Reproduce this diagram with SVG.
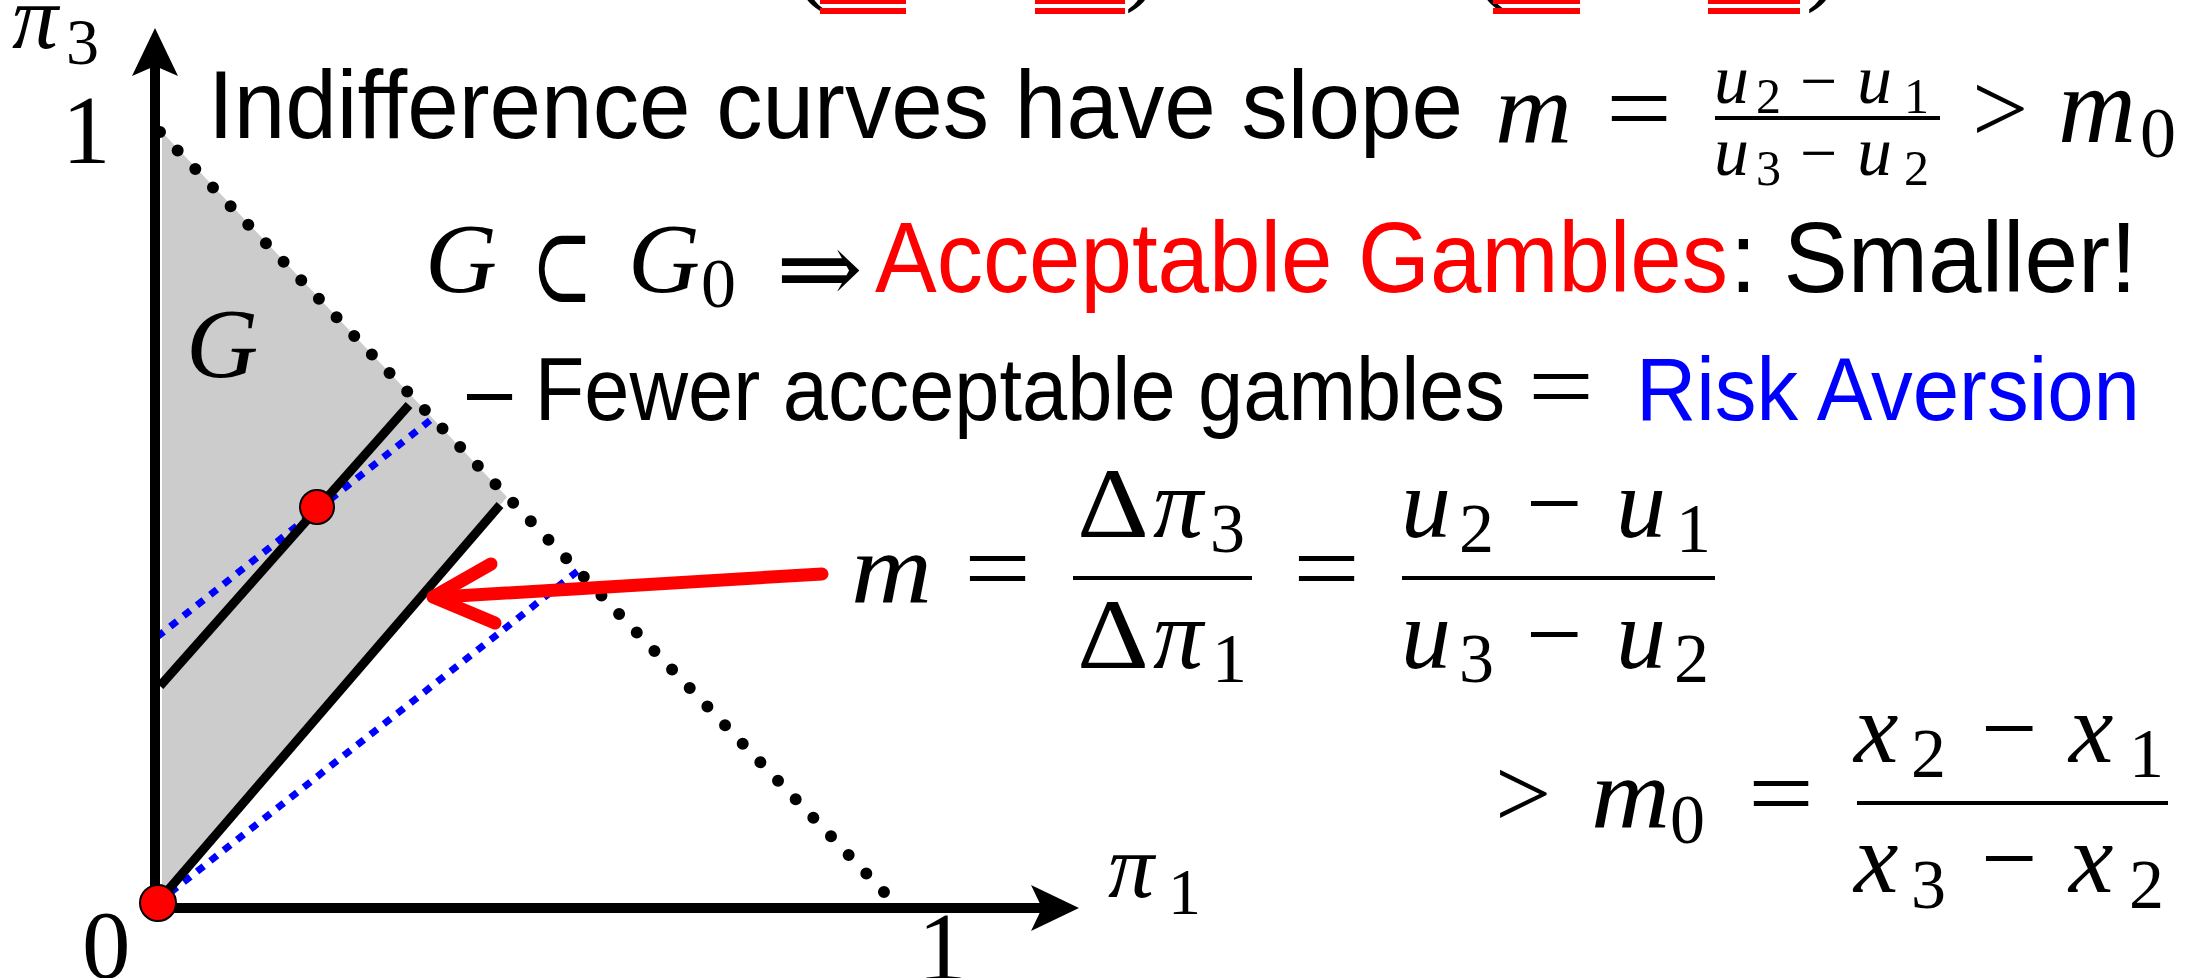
<svg xmlns="http://www.w3.org/2000/svg" width="2212" height="978" viewBox="0 0 2212 978">
<style>
.ms{font-family:"Liberation Serif","Times New Roman",serif;fill:#000}
.mi{font-family:"Liberation Serif","Times New Roman",serif;font-style:italic;fill:#000}
.sym{font-family:"DejaVu Serif","DejaVu Sans",serif;fill:#000}
.ss{font-family:"Liberation Sans",Arial,sans-serif;fill:#000}
.axis{stroke:#000;stroke-width:10;fill:none}
.iso{stroke:#000;stroke-width:9;fill:none}
.blue{stroke:#0000ff;stroke-width:7;stroke-dasharray:8.5 8.5;fill:none}
.hyp{stroke:#000;stroke-width:12;stroke-dasharray:0 25.6;stroke-linecap:round;fill:none}
.dot{fill:#ff0000;stroke:#000;stroke-width:2}
.bar{fill:#000}
.ul{fill:#ff0000}
</style>

<g id="top-fragment">
<text class="ms" x="794" y="-8" font-size="100">(</text>
<rect class="ul" x="820" y="0" width="86" height="4"/>
<rect class="ul" x="820" y="8" width="86" height="6"/>
<rect class="ul" x="1035" y="0" width="90" height="4"/>
<rect class="ul" x="1035" y="8" width="90" height="6"/>
<text class="ms" x="1125" y="-8" font-size="100">)</text>
<text class="ms" x="1474" y="-8" font-size="100">(</text>
<rect class="ul" x="1493" y="0" width="87" height="4"/>
<rect class="ul" x="1493" y="8" width="87" height="6"/>
<rect class="ul" x="1708" y="0" width="92" height="4"/>
<rect class="ul" x="1708" y="8" width="92" height="6"/>
<text class="ms" x="1806" y="-8" font-size="100">)</text>
</g>

<g id="region-G">
<polygon points="162,132 507,497 162,903" fill="#cccccc"/>
<text class="mi" x="186" y="377" font-size="100">G</text>
</g>

<g id="hypotenuse">
<line class="hyp" x1="160" y1="132" x2="884" y2="892"/>
</g>

<g id="indifference-lines">
<line class="blue" x1="157" y1="637" x2="433" y2="418"/>
<line class="blue" x1="157" y1="903" x2="579" y2="570"/>
<line class="iso" x1="160" y1="686" x2="409" y2="405"/>
<line class="iso" x1="157" y1="903" x2="500" y2="505"/>
</g>

<g id="axes">
<line class="axis" x1="155" y1="913" x2="155" y2="60"/>
<path d="M155,28 L178,76 L155,66 L132,76 Z" fill="#000"/>
<line class="axis" x1="150" y1="908" x2="1050" y2="908"/>
<path d="M1079,908 L1031,885 L1042,908 L1031,931 Z" fill="#000"/>
<text class="mi" x="12" y="48" font-size="92">π</text>
<text class="ms" x="66" y="64" font-size="66">3</text>
<text class="ms" x="62" y="163" font-size="97">1</text>
<text class="ms" x="82" y="978" font-size="97">0</text>
<text class="ms" x="918" y="980" font-size="97">1</text>
<text class="mi" x="1108" y="897" font-size="92">π</text>
<text class="ms" x="1168" y="914" font-size="66">1</text>
</g>

<g id="points">
<circle class="dot" cx="317" cy="507" r="17"/>
<circle class="dot" cx="158" cy="903" r="18"/>
</g>

<g id="connectors">
<line x1="822" y1="574" x2="440" y2="597" stroke="#ff0000" stroke-width="13" stroke-linecap="round"/>
<polyline points="491,564 433,597 495,623" fill="none" stroke="#ff0000" stroke-width="13" stroke-linecap="round" stroke-linejoin="round"/>
</g>

<g id="line1">
<text class="ss" x="208" y="138" font-size="97" textLength="1255" lengthAdjust="spacingAndGlyphs">Indifference curves have slope</text>
<text class="mi" x="1495" y="142" font-size="100" textLength="77" lengthAdjust="spacingAndGlyphs">m</text>
<text class="ms" x="1606" y="142" font-size="100" textLength="66" lengthAdjust="spacingAndGlyphs">=</text>
<rect class="bar" x="1715" y="116" width="225" height="4"/>
<text class="mi" x="1714" y="103" font-size="70">u</text>
<text class="ms" x="1756" y="113" font-size="50">2</text>
<text class="ms" x="1800" y="103" font-size="66">−</text>
<text class="mi" x="1857" y="103" font-size="70">u</text>
<text class="ms" x="1904" y="113" font-size="50">1</text>
<text class="mi" x="1714" y="175" font-size="70">u</text>
<text class="ms" x="1756" y="185" font-size="50">3</text>
<text class="ms" x="1800" y="175" font-size="66">−</text>
<text class="mi" x="1857" y="175" font-size="70">u</text>
<text class="ms" x="1904" y="185" font-size="50">2</text>
<text class="ms" x="1972" y="142" font-size="100">&gt;</text>
<text class="mi" x="2058" y="142" font-size="108">m</text>
<text class="ms" x="2140" y="157" font-size="72">0</text>
</g>

<g id="line2">
<text class="mi" x="425" y="292" font-size="100" textLength="72" lengthAdjust="spacingAndGlyphs">G</text>
<text class="sym" x="531" y="302" font-size="106" textLength="62" lengthAdjust="spacingAndGlyphs">⊂</text>
<text class="mi" x="628" y="292" font-size="100" textLength="72" lengthAdjust="spacingAndGlyphs">G</text>
<text class="ms" x="701" y="307" font-size="70">0</text>
<text class="sym" x="776" y="303" font-size="100" textLength="87" lengthAdjust="spacingAndGlyphs">⇒</text>
<text class="ss" x="875" y="292" font-size="100" style="fill:#ff0000" textLength="853" lengthAdjust="spacingAndGlyphs">Acceptable Gambles</text>
<text class="ss" x="1730" y="292" font-size="100" textLength="407" lengthAdjust="spacingAndGlyphs">: Smaller!</text>
</g>

<g id="line3">
<text class="ss" x="467" y="420" font-size="89" textLength="1038" lengthAdjust="spacingAndGlyphs">– Fewer acceptable gambles</text>
<text class="ms" x="1528" y="420" font-size="100" textLength="66" lengthAdjust="spacingAndGlyphs">=</text>
<text class="ss" x="1636" y="420" font-size="89" style="fill:#0000ff" textLength="504" lengthAdjust="spacingAndGlyphs">Risk Aversion</text>
</g>

<g id="formula-m">
<text class="mi" x="851" y="602" font-size="100" textLength="81" lengthAdjust="spacingAndGlyphs">m</text>
<text class="ms" x="964" y="602" font-size="100" textLength="67" lengthAdjust="spacingAndGlyphs">=</text>
<rect class="bar" x="1073" y="576" width="179" height="4"/>
<text class="ms" x="1077" y="537" font-size="100" textLength="72" lengthAdjust="spacingAndGlyphs">Δ</text>
<text class="mi" x="1153" y="537" font-size="100">π</text>
<text class="ms" x="1210" y="552" font-size="70">3</text>
<text class="ms" x="1077" y="668" font-size="100" textLength="72" lengthAdjust="spacingAndGlyphs">Δ</text>
<text class="mi" x="1153" y="668" font-size="100">π</text>
<text class="ms" x="1212" y="682" font-size="70">1</text>
<text class="ms" x="1293" y="602" font-size="100" textLength="67" lengthAdjust="spacingAndGlyphs">=</text>
<rect class="bar" x="1402" y="576" width="313" height="4"/>
<text class="mi" x="1401" y="537" font-size="100">u</text>
<text class="ms" x="1459" y="552" font-size="70">2</text>
<text class="ms" x="1526" y="537" font-size="100">−</text>
<text class="mi" x="1616" y="537" font-size="100">u</text>
<text class="ms" x="1676" y="552" font-size="70">1</text>
<text class="mi" x="1401" y="668" font-size="100">u</text>
<text class="ms" x="1459" y="682" font-size="70">3</text>
<text class="ms" x="1526" y="668" font-size="100">−</text>
<text class="mi" x="1616" y="668" font-size="100">u</text>
<text class="ms" x="1674" y="682" font-size="70">2</text>
</g>

<g id="formula-m0">
<text class="ms" x="1495" y="827" font-size="100">&gt;</text>
<text class="mi" x="1591" y="827" font-size="100" textLength="79" lengthAdjust="spacingAndGlyphs">m</text>
<text class="ms" x="1670" y="843" font-size="70">0</text>
<text class="ms" x="1748" y="827" font-size="100" textLength="66" lengthAdjust="spacingAndGlyphs">=</text>
<rect class="bar" x="1857" y="801" width="311" height="4"/>
<text class="mi" x="1854" y="762" font-size="100">x</text>
<text class="ms" x="1911" y="777" font-size="70">2</text>
<text class="ms" x="1981" y="762" font-size="100">−</text>
<text class="mi" x="2069" y="762" font-size="100">x</text>
<text class="ms" x="2129" y="777" font-size="70">1</text>
<text class="mi" x="1854" y="892" font-size="100">x</text>
<text class="ms" x="1911" y="908" font-size="70">3</text>
<text class="ms" x="1981" y="892" font-size="100">−</text>
<text class="mi" x="2069" y="892" font-size="100">x</text>
<text class="ms" x="2129" y="908" font-size="70">2</text>
</g>
</svg>
